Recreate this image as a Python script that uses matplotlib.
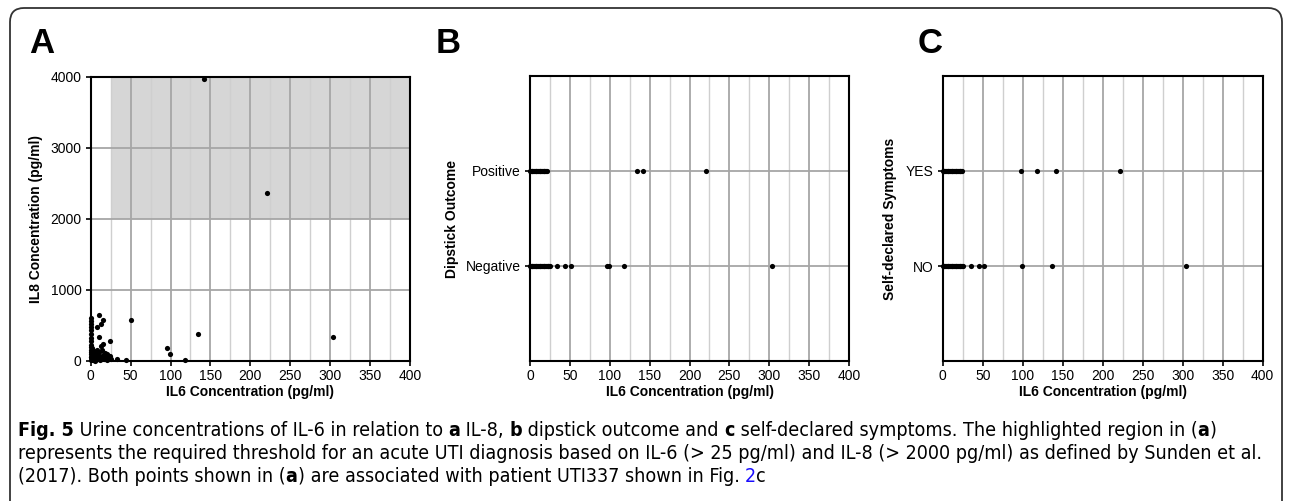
import matplotlib
matplotlib.use("Agg")
import matplotlib.pyplot as plt
from matplotlib import font_manager
from matplotlib.patches import FancyBboxPatch
from matplotlib.transforms import IdentityTransform
import numpy as np

# ---------------- data ----------------
a_il6 = [0, 0, 0, 0, 0, 0, 0, 0, 0, 0, 0, 0, 0, 0, 1, 1, 2, 2, 3, 3, 4, 4, 5, 5, 6, 6, 7, 7.5, 8, 8,
         9, 10, 10.4, 10.4, 11, 12, 12.4, 13, 13, 14, 15, 16, 16, 17, 18, 19, 20, 21, 22, 23.7, 24, 25,
         33.5, 44, 50, 95, 99, 118, 135, 141.6, 220.8, 303]
a_il8 = [600, 560, 520, 480, 430, 380, 330, 280, 230, 200, 150, 100, 50, 20, 120, 60, 180, 30, 90, 10, 140, 40, 70, 20, 110, 5, 50, 483, 160, 30,
         80, 40, 650, 338, 120, 20, 516, 211, 60, 150, 90, 577, 239, 30, 110, 60, 15, 100, 40, 281, 70, 30,
         25, 20, 572, 178, 94, 15, 380, 3972, 2360, 333]

b_pos_il6 = [0, 1, 2, 3, 4, 5, 6, 7, 8, 9, 10, 11, 12, 13, 14, 15, 16, 17, 18, 19, 20, 21, 134.5, 141.3, 220.7]
b_neg_il6 = [0, 1, 2, 3, 4, 5, 6, 7, 8, 9, 10, 11, 12, 13, 14, 15, 16, 17, 18, 19, 20, 21, 22, 23, 24, 25,
             33.5, 44, 51, 97, 99.5, 118, 304]
b_categories = ["Negative", "Positive"]

c_yes_il6 = [0, 1, 2, 3, 4, 5, 6, 7, 8, 9, 10, 11, 12, 13, 14, 15, 16, 17, 18, 19, 20, 21, 22, 23, 24,
             97.5, 118, 142, 221]
c_no_il6 = [0, 1, 2, 3, 4, 5, 6, 7, 8, 9, 10, 11, 12, 13, 14, 15, 16, 17, 18, 19, 20, 21, 22, 23, 24, 25,
            35, 45, 51.6, 99.5, 136, 304]
c_categories = ["NO", "YES"]

x_ticks = [0, 50, 100, 150, 200, 250, 300, 350, 400]
a_y_ticks = [0, 1000, 2000, 3000, 4000]
threshold_il6 = 25
threshold_il8 = 2000

# ---------------- style ----------------
W, H = 1290, 501
fig = plt.figure(figsize=(W / 100, H / 100), dpi=100)

sans = ["Liberation Sans", "DejaVu Sans"]
plt.rcParams["font.family"] = sans


def find_cond():
    for fam, st in [("Open Sans Condensed", "condensed"), ("Liberation Sans Narrow", "normal"),
                    ("DejaVu Sans", "condensed")]:
        try:
            fp = font_manager.FontProperties(family=fam, stretch=st)
            path = font_manager.findfont(fp, fallback_to_default=False)
            if st == "condensed" and "ondensed" not in path:
                continue
            return fam, st
        except Exception:
            continue
    return "Open Sans", "normal"


cap_fam, cap_stretch = find_cond()

major_c = "#a6a6a6"
minor_c = "#cfcfcf"
dot_s = 14
tick_fs = 10
lab_fs = 10


def px_axes(l, r, t, b):
    ax = fig.add_axes([l / W, (H - b) / H, (r - l) / W, (b - t) / H])
    ax._px = (l, r, t, b)
    return ax


def style_axes(ax):
    ax.set_xlim(0, 400)
    ax.set_xticks(x_ticks)
    ax.set_xticks(np.arange(25, 400, 50), minor=True)
    ax.grid(True, which="major", axis="x", color=major_c, lw=1.3, zorder=0.5)
    ax.grid(True, which="minor", axis="x", color=minor_c, lw=1.0, zorder=0.5)
    ax.grid(True, which="major", axis="y", color=major_c, lw=1.3, zorder=0.5)
    ax.set_axisbelow(True)
    for s in ax.spines.values():
        s.set_linewidth(1.5)
        s.set_color("black")
    ax.tick_params(axis="both", which="major", length=3.5, width=1.2, labelsize=tick_fs, pad=2.5)
    ax.tick_params(axis="y", which="major", pad=3.2)
    ax.tick_params(axis="x", which="minor", length=0)
    ax.set_xlabel("IL6 Concentration (pg/ml)", fontsize=lab_fs, fontweight="bold", va="center")
    l, r, t, b = ax._px
    ax.xaxis.set_label_coords(0.5, -(392 - b) / (b - t))


def place_ylabel(ax, text, xc):
    ax.set_ylabel(text, fontsize=lab_fs, fontweight="bold", va="center")
    l, r, t, b = ax._px
    ax.yaxis.set_label_coords((xc - l) / (r - l), 0.5)


# Panel A
axA = px_axes(90.7, 410, 76.7, 361)
axA.fill_between([threshold_il6, 400], threshold_il8, 4000, color="#d6d6d6", lw=0, zorder=0.3)
axA.scatter(a_il6, a_il8, s=dot_s, color="black", zorder=3, clip_on=False, linewidths=0)
style_axes(axA)
axA.set_ylim(0, 4000)
axA.set_yticks(a_y_ticks)
place_ylabel(axA, "IL8 Concentration (pg/ml)", 36)

# Panel B
axB = px_axes(530, 849, 76, 361)
axB.scatter(b_neg_il6, [1] * len(b_neg_il6), s=dot_s, color="black", zorder=3, clip_on=False, linewidths=0)
axB.scatter(b_pos_il6, [2] * len(b_pos_il6), s=dot_s, color="black", zorder=3, clip_on=False, linewidths=0)
style_axes(axB)
axB.set_ylim(0, 3)
axB.set_yticks([1, 2])
axB.set_yticklabels(b_categories)
place_ylabel(axB, "Dipstick Outcome", 452)

# Panel C
axC = px_axes(942.7, 1262.7, 76, 361)
axC.scatter(c_no_il6, [1] * len(c_no_il6), s=dot_s, color="black", zorder=3, clip_on=False, linewidths=0)
axC.scatter(c_yes_il6, [2] * len(c_yes_il6), s=dot_s, color="black", zorder=3, clip_on=False, linewidths=0)
style_axes(axC)
axC.set_ylim(0, 3)
axC.set_yticks([1, 2])
axC.set_yticklabels(c_categories)
place_ylabel(axC, "Self-declared Symptoms", 890)

# Panel letters
for letter, xp in [("A", 29), ("B", 436), ("C", 918)]:
    fig.text(xp / W, 1 - 53 / H, letter, fontsize=25, fontweight="bold", ha="left", va="baseline")

# Border (pixel coordinates)
border = FancyBboxPatch((10, -30), 1282 - 10, (H - 8) + 30,
                        boxstyle="round,pad=0,rounding_size=14", transform=IdentityTransform(),
                        fill=False, ec="#333333", lw=1.3)
fig.patches.append(border)

# Caption with mixed formatting
renderer = fig.canvas.get_renderer()
lines = [
    [("Fig. 5", "bold", "black"), (" Urine concentrations of IL-6 in relation to ", "normal", "black"),
     ("a", "bold", "black"), (" IL-8, ", "normal", "black"), ("b", "bold", "black"),
     (" dipstick outcome and ", "normal", "black"), ("c", "bold", "black"),
     (" self-declared symptoms. The highlighted region in (", "normal", "black"),
     ("a", "bold", "black"), (")", "normal", "black")],
    [("represents the required threshold for an acute UTI diagnosis based on IL-6 (> 25 pg/ml) and IL-8 (> 2000 pg/ml) as defined by Sunden et al.", "normal", "black")],
    [("(2017). Both points shown in (", "normal", "black"), ("a", "bold", "black"),
     (") are associated with patient UTI337 shown in Fig. ", "normal", "black"),
     ("2", "normal", "#1a0dff"), ("c", "normal", "black")],
]


def draw_line(segs, x0, ycen, size):
    x = x0
    arts = []
    for s, wgt, col in segs:
        t = fig.text(x / W, 1 - ycen / H, s, fontsize=size, fontweight=wgt, color=col,
                     family=[cap_fam, "DejaVu Sans"], fontstretch=cap_stretch,
                     ha="left", va="center")
        bb = t.get_window_extent(renderer)
        x += bb.width
        arts.append(t)
    return arts, x - x0


size0 = 12.0
arts, wid = draw_line(lines[0], 18, 430, size0)
for a in arts:
    a.remove()
size = size0 * (1212 - 18) / wid
for segs, yc in zip(lines, [430, 453.5, 477]):
    draw_line(segs, 18, yc, size)

fig.savefig("out.png", dpi=100)
